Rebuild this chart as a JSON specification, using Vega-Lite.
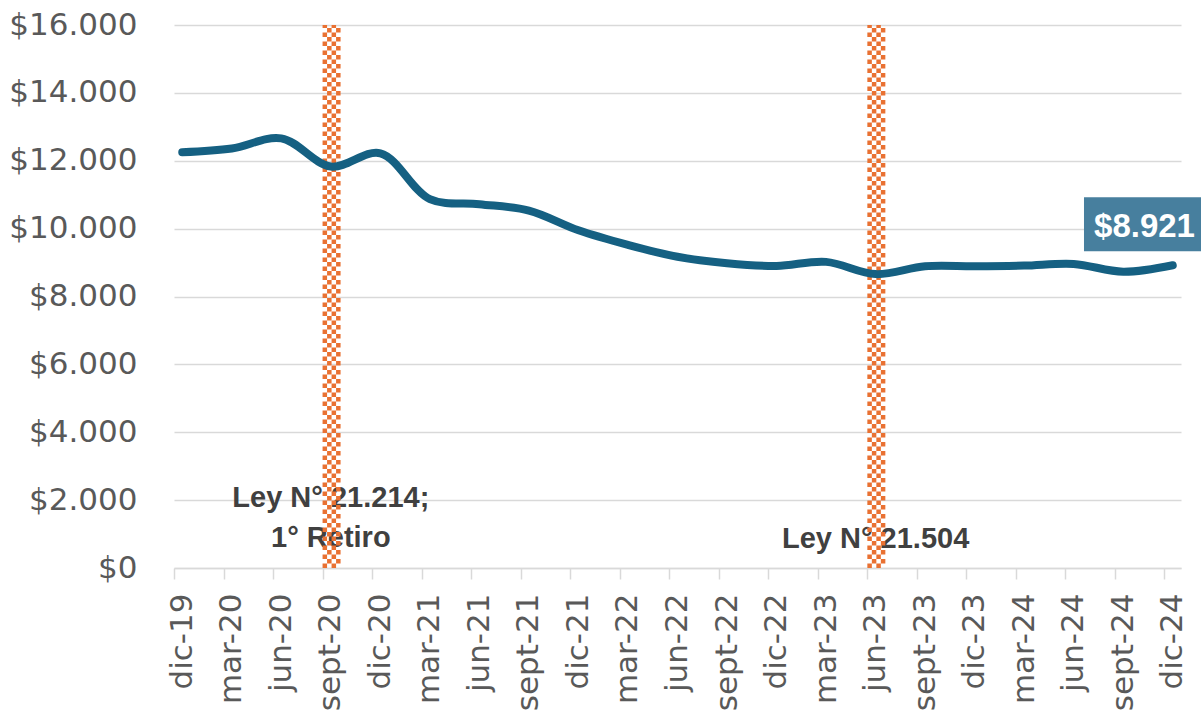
{
  "$schema": "https://vega.github.io/schema/vega-lite/v6.json",
  "width": 1007,
  "height": 543,
  "autosize": {"type": "none"},
  "padding": {"left": 174, "top": 25, "right": 20, "bottom": 146},
  "background": "white",
  "config": {"view": {"stroke": null}, "font": "DejaVu Sans"},
  "datasets": {
    "serie": [
      {"fecha": "dic-19", "mes": 0, "valor": 12250},
      {"fecha": "mar-20", "mes": 3, "valor": 12360},
      {"fecha": "jun-20", "mes": 6, "valor": 12660},
      {"fecha": "sept-20", "mes": 9, "valor": 11830},
      {"fecha": "dic-20", "mes": 12, "valor": 12220},
      {"fecha": "mar-21", "mes": 15, "valor": 10870},
      {"fecha": "jun-21", "mes": 18, "valor": 10720},
      {"fecha": "sept-21", "mes": 21, "valor": 10530},
      {"fecha": "dic-21", "mes": 24, "valor": 9950},
      {"fecha": "mar-22", "mes": 27, "valor": 9520},
      {"fecha": "jun-22", "mes": 30, "valor": 9170},
      {"fecha": "sept-22", "mes": 33, "valor": 8980},
      {"fecha": "dic-22", "mes": 36, "valor": 8900},
      {"fecha": "mar-23", "mes": 39, "valor": 9020},
      {"fecha": "jun-23", "mes": 42, "valor": 8660},
      {"fecha": "sept-23", "mes": 45, "valor": 8890},
      {"fecha": "dic-23", "mes": 48, "valor": 8890},
      {"fecha": "mar-24", "mes": 51, "valor": 8910},
      {"fecha": "jun-24", "mes": 54, "valor": 8960},
      {"fecha": "sept-24", "mes": 57, "valor": 8730},
      {"fecha": "dic-24", "mes": 60, "valor": 8921}
    ],
    "leyes": [
      {"mes": 9, "texto": ["Ley N° 21.214;", "1° Retiro"]},
      {"mes": 42, "texto": ["Ley N° 21.504"]}
    ],
    "etiqueta": [
      {"mes": 60, "valor": 8921, "texto": "$8.921"}
    ]
  },
  "layer": [
    {
      "data": {"name": "serie"},
      "mark": {"type": "line", "color": "#156082", "strokeWidth": 8, "interpolate": "catmull-rom", "opacity": 0},
      "encoding": {
        "x": {
          "field": "mes", "type": "quantitative",
          "scale": {"domain": [0, 61], "nice": false, "zero": false},
          "axis": {
            "title": null,
            "values": [0,3,6,9,12,15,18,21,24,27,30,33,36,39,42,45,48,51,54,57,60],
            "labelExpr": "['dic','mar','jun','sept'][(datum.value/3)%4] + '-' + (19 + floor((datum.value+11)/12))",
            "labelAngle": 270,
            "labelAlign": "right",
            "labelBaseline": "middle",
            "labelOffset": 8.25,
            "labelPadding": 14,
            "labelFontSize": 31,
            "labelColor": "#595959",
            "labelFont": "DejaVu Sans",
            "labelOverlap": false,
            "labelBound": false,
            "labelFlush": false,
            "domainColor": "#d9d9d9",
            "domainWidth": 1.5,
            "tickColor": "#d9d9d9",
            "tickWidth": 1.5,
            "tickSize": 11,
            "grid": false
          }
        },
        "y": {
          "field": "valor", "type": "quantitative",
          "scale": {"domain": [0, 16000], "nice": false},
          "axis": {
            "title": null,
            "values": [0,2000,4000,6000,8000,10000,12000,14000,16000],
            "labelExpr": "'$' + replace(format(datum.value, ','), ',', '.')",
            "labelFontSize": 31,
            "labelColor": "#595959",
            "labelFont": "DejaVu Sans",
            "labelPadding": 37,
            "domain": false,
            "ticks": false,
            "grid": true,
            "gridColor": "#d9d9d9",
            "gridWidth": 1.5
          }
        }
      }
    },
    {
      "data": {"name": "leyes"},
      "transform": [{"filter": "datum.mes == 9"}],
      "mark": {"type": "text", "font": "Liberation Sans", "fontWeight": "bold", "fontSize": 29, "color": "#404040", "align": "center", "baseline": "alphabetic", "lineHeight": 40, "xOffset": 8.25, "dy": -61},
      "encoding": {
        "x": {"field": "mes", "type": "quantitative", "title": null},
        "y": {"datum": 0, "type": "quantitative", "title": null},
        "text": {"field": "texto"}
      }
    },
    {
      "data": {"name": "leyes"},
      "transform": [{"filter": "datum.mes == 42"}],
      "mark": {"type": "text", "font": "Liberation Sans", "fontWeight": "bold", "fontSize": 29, "color": "#404040", "align": "center", "baseline": "alphabetic", "lineHeight": 40, "xOffset": 8.25, "dy": -20},
      "encoding": {
        "x": {"field": "mes", "type": "quantitative", "title": null},
        "y": {"datum": 0, "type": "quantitative", "title": null},
        "text": {"field": "texto"}
      }
    },
    {
      "data": {"name": "leyes"},
      "mark": {"type": "rule", "color": "#E97132", "strokeWidth": 4.5, "strokeDash": [4.5, 4.5], "strokeDashOffset": 0, "strokeCap": "butt", "xOffset": 2.25},
      "encoding": {
        "x": {"field": "mes", "type": "quantitative", "title": null},
        "y": {"datum": 0, "type": "quantitative", "title": null},
        "y2": {"datum": 16000}
      }
    },
    {
      "data": {"name": "leyes"},
      "mark": {"type": "rule", "color": "#E97132", "strokeWidth": 4.5, "strokeDash": [4.5, 4.5], "strokeDashOffset": 4.5, "strokeCap": "butt", "xOffset": 6.75},
      "encoding": {
        "x": {"field": "mes", "type": "quantitative", "title": null},
        "y": {"datum": 0, "type": "quantitative", "title": null},
        "y2": {"datum": 16000}
      }
    },
    {
      "data": {"name": "leyes"},
      "mark": {"type": "rule", "color": "#E97132", "strokeWidth": 4.5, "strokeDash": [4.5, 4.5], "strokeDashOffset": 0, "strokeCap": "butt", "xOffset": 11.25},
      "encoding": {
        "x": {"field": "mes", "type": "quantitative", "title": null},
        "y": {"datum": 0, "type": "quantitative", "title": null},
        "y2": {"datum": 16000}
      }
    },
    {
      "data": {"name": "leyes"},
      "mark": {"type": "rule", "color": "#E97132", "strokeWidth": 4.5, "strokeDash": [4.5, 4.5], "strokeDashOffset": 4.5, "strokeCap": "butt", "xOffset": 15.75},
      "encoding": {
        "x": {"field": "mes", "type": "quantitative", "title": null},
        "y": {"datum": 0, "type": "quantitative", "title": null},
        "y2": {"datum": 16000}
      }
    },
    {
      "data": {"name": "serie"},
      "mark": {"type": "line", "color": "#156082", "strokeWidth": 8, "interpolate": "catmull-rom", "strokeCap": "round", "strokeJoin": "round", "xOffset": 8.25},
      "encoding": {
        "x": {"field": "mes", "type": "quantitative", "title": null},
        "y": {"field": "valor", "type": "quantitative", "title": null}
      }
    },
    {
      "data": {"name": "etiqueta"},
      "mark": {"type": "rect", "color": "#477f9e", "xOffset": -80.5, "x2Offset": 45, "yOffset": -68, "y2Offset": -14},
      "encoding": {
        "x": {"field": "mes", "type": "quantitative", "title": null},
        "x2": {"field": "mes"},
        "y": {"field": "valor", "type": "quantitative", "title": null},
        "y2": {"field": "valor"}
      }
    },
    {
      "data": {"name": "etiqueta"},
      "mark": {"type": "text", "font": "Liberation Sans", "fontWeight": "bold", "fontSize": 33, "color": "white", "align": "center", "baseline": "alphabetic", "dx": -20, "dy": -28.5},
      "encoding": {
        "x": {"field": "mes", "type": "quantitative", "title": null},
        "y": {"field": "valor", "type": "quantitative", "title": null},
        "text": {"field": "texto"}
      }
    }
  ]
}
